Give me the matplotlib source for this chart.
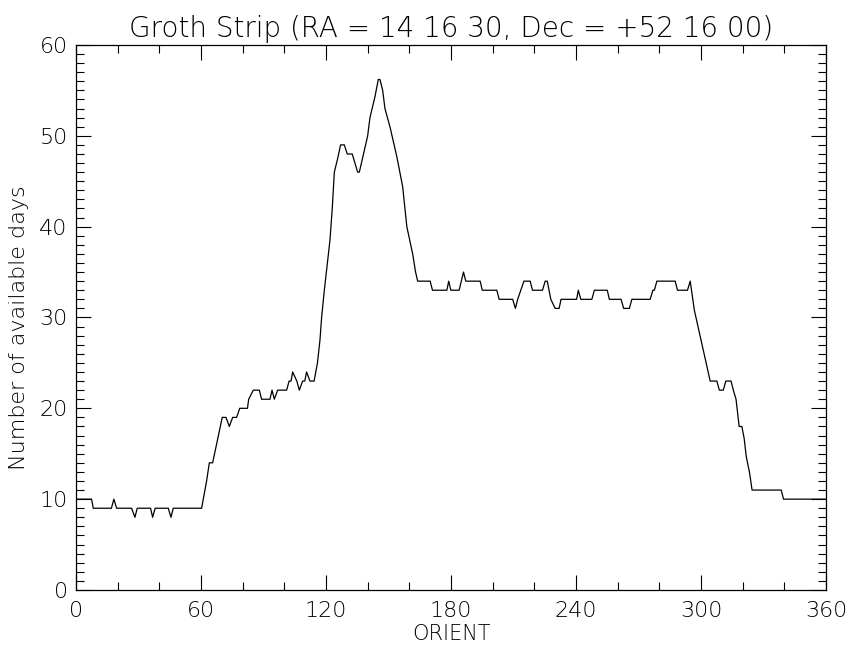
import matplotlib
matplotlib.use("Agg")
import matplotlib.pyplot as plt
from matplotlib.ticker import MultipleLocator

# vertices of the curve (orient in deg, days)
orient = [0, 7.5, 8.3, 17, 18.2, 19.5, 26.7, 28.3, 29.4, 35.8, 36.8, 38, 44.3, 45.6, 46.7,
          60.3, 61.5, 62.7, 64, 65.6, 70.2, 72, 73.6, 75.2, 77.1, 78.6, 82.3, 82.9, 85.1,
          88, 89.1, 93.1, 94.1, 95.2, 96.8, 101.1, 102.3, 103.2, 104, 106, 107.2, 108.8,
          109.8, 110.7, 112.3, 114.3, 115.9, 117.1, 117.9, 119.2, 121.9, 123, 124, 125.6,
          127, 128.8, 130.2, 132.6, 135.2, 136, 140, 141.1, 143.5, 145.1, 145.9, 147.2,
          148.3, 150.7, 154, 156.8, 158.8, 161.6, 163, 164, 170, 171.1, 178, 178.9, 179.9,
          183.9, 186, 187.1, 194, 195, 202, 203.1, 209.6, 210.9, 212, 215, 218, 219.1,
          223.9, 225.2, 226.2, 227.9, 230, 231.9, 232.8, 240.3, 241.1, 242.3, 247.6, 248.8,
          255, 256, 261.6, 262.9, 265.6, 266.8, 275.6, 276.9, 277.6, 278.8, 287.6, 288.7,
          293.5, 294.8, 296.8, 304.4, 307.6, 308.8, 310.7, 311.9, 314.4, 315.5, 316.8,
          318.3, 319.6, 320.7, 321.7, 323.3, 324.5, 338.5, 339.6, 360]
days = [10, 10, 9, 9, 10, 9, 9, 8, 9, 9, 8, 9, 9, 8, 9,
        9, 10.5, 12, 14, 14, 19, 19, 18, 19, 19, 20, 20, 21, 22,
        22, 21, 21, 22, 21, 22, 22, 23, 23, 24, 23, 22, 23,
        23, 24, 23, 23, 25, 27.5, 30, 33, 38.5, 42, 46, 47.5,
        49, 49, 48, 48, 46, 46, 50, 52, 54.3, 56.2, 56.2, 55,
        53, 51, 47.7, 44.4, 40, 37, 35, 34, 34, 33, 33, 34, 33,
        33, 35, 34, 34, 33, 33, 32, 32, 31, 32, 34, 34, 33,
        33, 34, 34, 32, 31, 31, 32, 32, 33, 32, 32, 33,
        33, 32, 32, 31, 31, 32, 32, 33, 33, 34, 34, 33,
        33, 34, 30.8, 23, 23, 22, 22, 23, 23, 22, 21,
        18, 18, 16.7, 14.7, 12.9, 11, 11, 10, 10]

xticks = [0, 60, 120, 180, 240, 300, 360]
yticks = [0, 10, 20, 30, 40, 50, 60]

plt.rcParams['font.family'] = ['DejaVu Sans']
plt.rcParams['font.weight'] = 'light'
plt.rcParams['axes.titleweight'] = 'light'
plt.rcParams['axes.labelweight'] = 'light'
fig = plt.figure(figsize=(8.46, 6.54), dpi=100)
ax = fig.add_axes([0.0898, 0.0979, 0.8866, 0.8333])
ax.plot(orient, days, color='black', linewidth=0.9)

ax.set_xlim(0, 360)
ax.set_ylim(0, 60)
ax.set_xticks(xticks)
ax.set_yticks(yticks)
ax.xaxis.set_minor_locator(MultipleLocator(20))
ax.yaxis.set_minor_locator(MultipleLocator(1))
ax.tick_params(which='both', direction='in', top=True, right=True,
               width=0.8, labelsize=16)
ax.tick_params(axis='x', pad=8)
ax.tick_params(axis='y', pad=6)
ax.tick_params(which='major', length=11)
ax.tick_params(which='minor', length=6)
for s in ax.spines.values():
    s.set_linewidth(0.9)

ax.set_title('Groth Strip (RA = 14 16 30, Dec = +52 16 00)', fontsize=20, pad=6)
ax.set_xlabel('ORIENT', fontsize=15, labelpad=2)
ax.set_ylabel('Number of available days', fontsize=16)
ax.yaxis.set_label_coords(-0.062, 0.482)

fig.savefig('out.png', dpi=100)
